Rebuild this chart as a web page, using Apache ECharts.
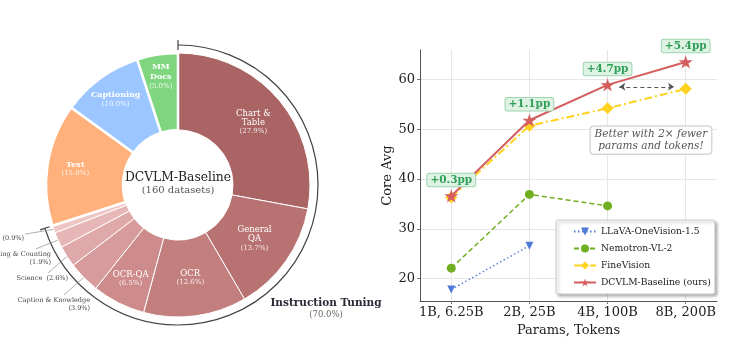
<!DOCTYPE html>
<html>
<head>
<meta charset="utf-8">
<script src="https://cdn.jsdelivr.net/npm/echarts@6/dist/echarts.min.js"></script>
<style>
html, body { margin: 0; background: #fff; }
#chart { width: 740px; height: 360px; }
</style>
</head>
<body>
<div id="chart"></div>
<script>
// ---- data ----
var sliceNames = ['Chart &\nTable', 'General\nQA', 'OCR', 'OCR-QA', 'Caption & Knowledge', 'Science',
    'Grounding & Counting', 'Video', 'Text', 'Captioning', 'MM\nDocs'];
var sliceShares = [27.9, 13.7, 12.6, 6.5, 3.9, 2.6, 1.9, 0.9, 15.0, 10.0, 5.0];
var instructionCount = 8; // first 8 slices make up "Instruction Tuning"
var datasetCount = 160;

var xLabels = ['1B, 6.25B', '2B, 25B', '4B, 100B', '8B, 200B'];
var llava = [17.8, 26.6];
var nemotron = [22.1, 36.9, 34.6];
var fineVision = [36.3, 50.7, 54.2, 58.1];
var dcvlm = [36.6, 51.8, 58.9, 63.5];

// ---- styles / layout ----
var FONT = '"DejaVu Serif", serif';
var sliceColors = ['#aa6464', '#b87272', '#c37e7e', '#ce8b8b', '#d89b9b', '#dfa9a9', '#e7b7b7', '#efc6c6',
    '#ffb07b', '#9cc6ff', '#7fd67f'];
var CX = 178, CY = 185, R0 = 55, R1 = 132;
var labelR = {0: 98, 3: 105, 8: 104, 9: 106, 10: 110};
var sideLabel = {4: {x: 90, y: 304}, 5: {x: 68, y: 278}, 6: {x: 51, y: 258}, 7: {x: 24, y: 238}};

var total = sliceShares.reduce(function (a, b) { return a + b; }, 0);
function midAngle(i) {
    var c = 0;
    for (var k = 0; k < i; k++) c += sliceShares[k];
    return (c + sliceShares[i] / 2) / total * 2 * Math.PI;
}
function polar(a, r) { return [CX + r * Math.sin(a), CY - r * Math.cos(a)]; }

var itShare = 0;
for (var k = 0; k < instructionCount; k++) itShare += sliceShares[k];
var itEnd = itShare / total * 2 * Math.PI;

var pieData = sliceNames.map(function (n, i) {
    var isIT = i < instructionCount, side = !!sideLabel[i];
    var pct = '(' + sliceShares[i].toFixed(1) + '%)';
    var label;
    if (side) {
        label = {
            position: 'outside', color: '#444', fontSize: 6.5, lineHeight: 8, fontFamily: FONT,
            formatter: n.length > 10 ? n + '\n' + pct : n + '  ' + pct
        };
    } else {
        var key = isIT ? 'n' : 'b';
        label = { position: 'inside', formatter: '{' + key + '|' + n + '}\n{p|' + pct + '}' };
    }
    return {
        name: n, value: sliceShares[i],
        itemStyle: { color: sliceColors[i], borderColor: '#fff', borderWidth: isIT ? 1 : 2.5 },
        label: label,
        labelLine: { show: side, lineStyle: { color: '#999', width: 0.8 } }
    };
});

var gains = dcvlm.map(function (v, i) { return '+' + (v - fineVision[i]).toFixed(1) + 'pp'; });
function pairs(arr) { return arr.map(function (v, i) { return [i, v]; }); }

var starPath = 'path://M50,0 L61.2,34.5 L97.6,34.5 L68.2,55.9 L79.4,90.5 L50,69.1 L20.6,90.5 L31.8,55.9 L2.4,34.5 L38.8,34.5 Z';

var chart = echarts.init(document.getElementById('chart'));
var option = {
    animation: false,
    textStyle: { fontFamily: FONT },
    grid: { left: 420, right: 23, top: 50, bottom: 59 },
    legend: {
        orient: 'vertical', left: 556, top: 220,
        itemWidth: 22, itemHeight: 10, itemGap: 8,
        padding: [7, 4, 7, 17],
        backgroundColor: '#fff', borderColor: '#ccc', borderWidth: 1, borderRadius: 2,
        shadowColor: 'rgba(0,0,0,0.3)', shadowBlur: 3, shadowOffsetX: 2, shadowOffsetY: 2,
        textStyle: { fontFamily: FONT, fontSize: 9.2, color: '#222' },
        data: ['LLaVA-OneVision-1.5', 'Nemotron-VL-2', 'FineVision', 'DCVLM-Baseline (ours)']
    },
    xAxis: {
        type: 'value', min: -0.4, max: 3.4, minInterval: 1, maxInterval: 1,
        name: 'Params, Tokens', nameLocation: 'middle', nameGap: 21,
        nameTextStyle: { fontFamily: FONT, fontSize: 13, color: '#222' },
        axisLine: { show: true, lineStyle: { color: '#555', width: 1 } },
        axisTick: { show: true, length: 3, lineStyle: { color: '#777' } },
        axisLabel: {
            margin: 5, fontSize: 13, color: '#222', fontFamily: FONT,
            showMinLabel: false, showMaxLabel: false,
            formatter: function (v) { return Number.isInteger(v) ? (xLabels[v] || '') : ''; }
        },
        splitLine: { show: true, showMinLine: false, showMaxLine: false, lineStyle: { color: '#e6e6e6' } }
    },
    yAxis: {
        type: 'value', min: 15.5, max: 65.9, minInterval: 10, maxInterval: 10,
        name: 'Core Avg', nameLocation: 'middle', nameGap: 22,
        nameTextStyle: { fontFamily: FONT, fontSize: 13, color: '#222' },
        axisLine: { show: true, onZero: false, lineStyle: { color: '#555', width: 1 } },
        axisTick: { show: true, length: 3, lineStyle: { color: '#777' } },
        axisLabel: { margin: 5, fontSize: 13, color: '#222', fontFamily: FONT, showMinLabel: false, showMaxLabel: false },
        splitLine: { show: true, showMinLine: false, showMaxLine: false, lineStyle: { color: '#e6e6e6' } }
    },
    series: [
        {
            type: 'pie', center: [CX, CY], radius: [R0, R1], startAngle: 90, clockwise: true,
            avoidLabelOverlap: false, silent: true,
            label: {
                show: true, fontFamily: FONT,
                rich: {
                    n: { color: '#fff', fontSize: 8.5, lineHeight: 9, fontFamily: FONT },
                    b: { color: '#fff', fontSize: 8, lineHeight: 9.5, fontWeight: 'bold', fontFamily: FONT },
                    p: { color: 'rgba(255,255,255,0.85)', fontSize: 7, lineHeight: 8.5, fontFamily: FONT }
                }
            },
            labelLayout: function (p) {
                var i = p.dataIndex, a = midAngle(i);
                if (sideLabel[i]) {
                    var s = sideLabel[i], w = p.labelRect.width, h = p.labelRect.height;
                    var edge = polar(a, R1);
                    var bx = s.x - w / 2, by = s.y;
                    var dx = edge[0] - bx, dy = edge[1] - by;
                    var t = Math.min((w / 2 + 1) / Math.max(Math.abs(dx), 1e-6), (h / 2 + 1) / Math.max(Math.abs(dy), 1e-6));
                    var st = [bx + dx * t, by + dy * t];
                    return {
                        x: s.x, y: s.y, align: 'right', verticalAlign: 'middle',
                        labelLinePoints: [edge, [(edge[0] + st[0]) / 2, (edge[1] + st[1]) / 2], st]
                    };
                }
                var pt = polar(a, labelR[i] || (R0 + R1) / 2);
                return { x: pt[0], y: pt[1], align: 'center', verticalAlign: 'middle' };
            },
            data: pieData
        },
        {
            name: 'LLaVA-OneVision-1.5', type: 'line', data: pairs(llava),
            symbol: 'triangle', symbolRotate: 180, symbolSize: 8, color: '#4f7bd6',
            lineStyle: { type: [1.5, 2.5], width: 1.4 }, z: 3
        },
        {
            name: 'Nemotron-VL-2', type: 'line', data: pairs(nemotron),
            symbol: 'circle', symbolSize: 9, color: '#6fae1f',
            lineStyle: { type: [5, 3], width: 1.5 }, z: 4
        },
        {
            name: 'FineVision', type: 'line', data: pairs(fineVision),
            symbol: 'diamond', symbolSize: 12, color: '#ffd21f',
            lineStyle: { type: [8, 3, 2, 3], width: 2 }, z: 5,
            markPoint: {
                silent: true, symbol: 'rect', symbolSize: 1, itemStyle: { color: 'rgba(0,0,0,0)' },
                data: [{
                    coord: [2.555, 47.8],
                    label: {
                        show: true, position: 'inside', formatter: 'Better with 2\u00d7 fewer\nparams and tokens!',
                        fontFamily: FONT, fontStyle: 'italic', fontSize: 10.5, lineHeight: 12.7, color: '#555',
                        backgroundColor: 'rgba(255,255,255,0.9)', borderColor: '#c8c8c8', borderWidth: 1,
                        borderRadius: 3, padding: [1, 4, 1, 4]
                    }
                }]
            }
        },
        {
            name: 'DCVLM-Baseline (ours)', type: 'line', data: pairs(dcvlm),
            symbol: starPath, symbolKeepAspect: true, symbolSize: 14, color: '#d45d5d',
            lineStyle: { width: 2 }, z: 6,
            label: {
                show: true, position: 'top', distance: 3,
                formatter: function (p) { return gains[p.dataIndex]; },
                fontFamily: FONT, fontWeight: 'bold', fontSize: 10.5, lineHeight: 10.5, color: '#2f9e57',
                backgroundColor: '#dff3e5', borderColor: '#9fd4ae', borderWidth: 1, borderRadius: 2,
                padding: [1, 3]
            },
            markLine: {
                silent: true, symbol: ['arrow', 'arrow'], symbolSize: [6, 6],
                label: { show: false },
                lineStyle: { color: '#555', type: [4, 3], width: 1.2 },
                data: [[{ coord: [2.15, 58.5] }, { coord: [2.85, 58.5] }]]
            }
        }
    ],
    graphic: [
        {
            type: 'arc', silent: true,
            shape: { cx: CX, cy: CY, r: 140, startAngle: -Math.PI / 2, endAngle: -Math.PI / 2 + itEnd, clockwise: true },
            style: { stroke: '#444', lineWidth: 1.2, fill: 'none' }
        },
        {
            type: 'line', silent: true,
            shape: { x1: polar(0, 135)[0], y1: polar(0, 135)[1], x2: polar(0, 145)[0], y2: polar(0, 145)[1] },
            style: { stroke: '#444', lineWidth: 1.2 }
        },
        {
            type: 'line', silent: true,
            shape: { x1: polar(itEnd, 135)[0], y1: polar(itEnd, 135)[1], x2: polar(itEnd, 145)[0], y2: polar(itEnd, 145)[1] },
            style: { stroke: '#444', lineWidth: 1.2 }
        },
        {
            type: 'text', x: CX, y: 178, silent: true,
            style: { text: 'DCVLM-Baseline', font: '12.3px ' + FONT, fill: '#222', align: 'center', verticalAlign: 'middle' }
        },
        {
            type: 'text', x: CX, y: 190, silent: true,
            style: { text: '(' + datasetCount + ' datasets)', font: '10px ' + FONT, fill: '#555', align: 'center', verticalAlign: 'middle' }
        },
        {
            type: 'text', x: 326, y: 303, silent: true,
            style: { text: 'Instruction Tuning', font: 'bold 10.5px ' + FONT, fill: '#2b2b38', align: 'center', verticalAlign: 'middle' }
        },
        {
            type: 'text', x: 326, y: 315, silent: true,
            style: { text: '(' + itShare.toFixed(1) + '%)', font: '8.5px ' + FONT, fill: '#666', align: 'center', verticalAlign: 'middle' }
        }
    ]
};
chart.setOption(option);
window.addEventListener('resize', chart.resize);
</script>
</body>
</html>
